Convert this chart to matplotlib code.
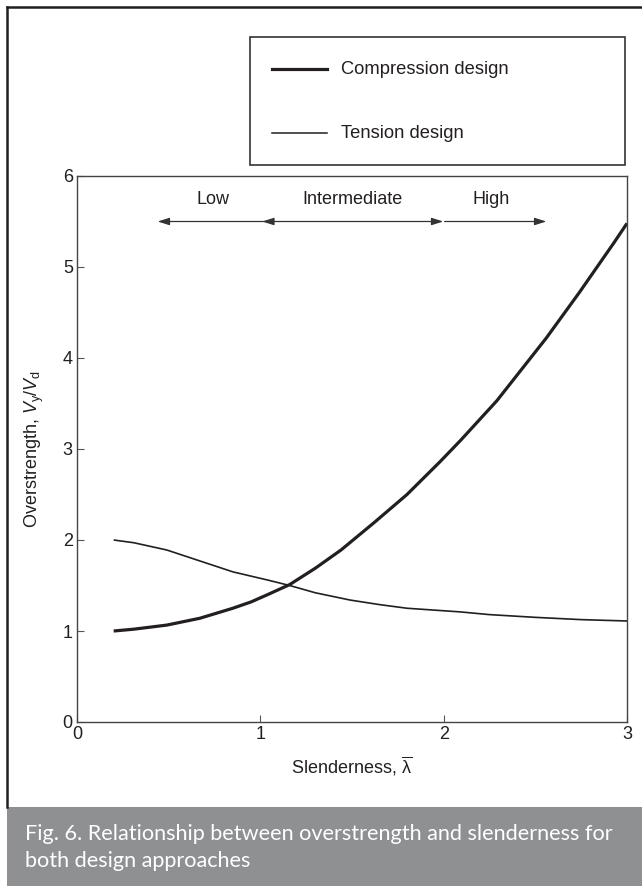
import matplotlib
matplotlib.use("Agg")
import matplotlib.pyplot as plt
from matplotlib.patches import Rectangle
from matplotlib.lines import Line2D

plt.rcParams['font.family'] = ['Liberation Sans', 'DejaVu Sans']
plt.rcParams['mathtext.fontset'] = 'custom'
plt.rcParams['mathtext.rm'] = 'Liberation Sans'
plt.rcParams['mathtext.it'] = 'Liberation Sans:italic'

# values
slender_comp = [0.2, 0.31, 0.49, 0.67, 0.85, 0.95, 1.04, 1.16, 1.3, 1.44, 1.62,
                1.8, 1.98, 2.09, 2.29, 2.56, 2.74, 2.93, 3.0]
overstr_comp = [1.0, 1.02, 1.065, 1.14, 1.25, 1.32, 1.40, 1.51, 1.69, 1.89, 2.19,
                2.50, 2.86, 3.09, 3.53, 4.22, 4.72, 5.27, 5.48]

slender_tens = [0.2, 0.31, 0.49, 0.67, 0.85, 1.04, 1.16, 1.3, 1.49, 1.65,
                1.8, 2.09, 2.25, 2.5, 2.75, 3.0]
overstr_tens = [2.0, 1.97, 1.89, 1.77, 1.65, 1.56, 1.50, 1.42, 1.34, 1.29,
                1.25, 1.21, 1.18, 1.15, 1.125, 1.11]

zone_names = ["Low", "Intermediate", "High"]
zone_starts = [1.02, 1.01, 2.005]
zone_ends = [0.44, 1.998, 2.56]
zone_label_x = [0.74, 1.5, 2.26]

x_ticks = [0, 1, 2, 3]
y_ticks = [0, 1, 2, 3, 4, 5, 6]

ink = "#231f20"
W, H = 642, 886

fig = plt.figure(figsize=(W / 100, H / 100), dpi=100)

# outer frame of the figure box
fig.add_artist(Line2D([7 / W, 7 / W], [1 - 807 / H, 1 - 7 / H], color=ink, lw=1.8))
fig.add_artist(Line2D([7 / W, 1], [1 - 7 / H, 1 - 7 / H], color=ink, lw=1.8))

# caption band
fig.add_artist(Rectangle((7 / W, 0), 1 - 7 / W, 79 / H, facecolor="#8e9092",
                         edgecolor="none"))
fig.text(25 / W, 1 - 834 / H, "Fig. 6. Relationship between overstrength and slenderness for",
         color="white", fontsize=15.6, family="Lato", va="center", ha="left")
fig.text(25 / W, 1 - 861 / H, "both design approaches",
         color="white", fontsize=15.6, family="Lato", va="center", ha="left")

# legend box
fig.add_artist(Rectangle((250 / W, 1 - 165 / H), 375 / W, 128 / H, facecolor="white",
                         edgecolor="#333333", lw=1.2))
fig.add_artist(Line2D([272 / W, 327 / W], [1 - 69 / H, 1 - 69 / H], color=ink, lw=2.3))
fig.add_artist(Line2D([272 / W, 327 / W], [1 - 133 / H, 1 - 133 / H], color=ink, lw=1.1))
fig.text(341 / W, 1 - 69 / H, "Compression design", fontsize=13.2, va="center", color=ink)
fig.text(341 / W, 1 - 133 / H, "Tension design", fontsize=13.2, va="center", color=ink)

ax = fig.add_axes([77 / W, 1 - 722 / H, 550 / W, 546 / H])
ax.plot(slender_comp, overstr_comp, color=ink, lw=2.3, solid_capstyle="butt",
        solid_joinstyle="round")
ax.plot(slender_tens, overstr_tens, color=ink, lw=1.2, solid_capstyle="butt",
        solid_joinstyle="round")

for name, x0, x1, xl in zip(zone_names, zone_starts, zone_ends, zone_label_x):
    if name == "Intermediate":
        style = "<|-|>,head_length=0.7,head_width=0.22"
    else:
        style = "-|>,head_length=0.7,head_width=0.22"
    ax.annotate("", xy=(x1, 5.5), xytext=(x0, 5.5),
                arrowprops=dict(arrowstyle=style, color="#333333", lw=0.9,
                                shrinkA=0, shrinkB=0))
    ax.text(xl, 5.65, name, ha="center", va="bottom", fontsize=13, color=ink)

ax.set_xlim(0, 3)
ax.set_ylim(0, 6)
ax.set_xticks(x_ticks)
ax.set_yticks(y_ticks)
ax.tick_params(direction="in", length=5, width=0.8, colors="#555555",
               labelcolor=ink, labelsize=13, pad=3)
for sp in ax.spines.values():
    sp.set_color("#444444")
    sp.set_linewidth(1.0)

ax.set_xlabel(r"Slenderness, $\overline{\mathrm{\lambda}}$", fontsize=13, color=ink,
              labelpad=8)
ax.set_ylabel(r"Overstrength, $V_\mathrm{y}/V_\mathrm{d}$", fontsize=13, color=ink,
              labelpad=12)

fig.savefig("out.png", dpi=100)
